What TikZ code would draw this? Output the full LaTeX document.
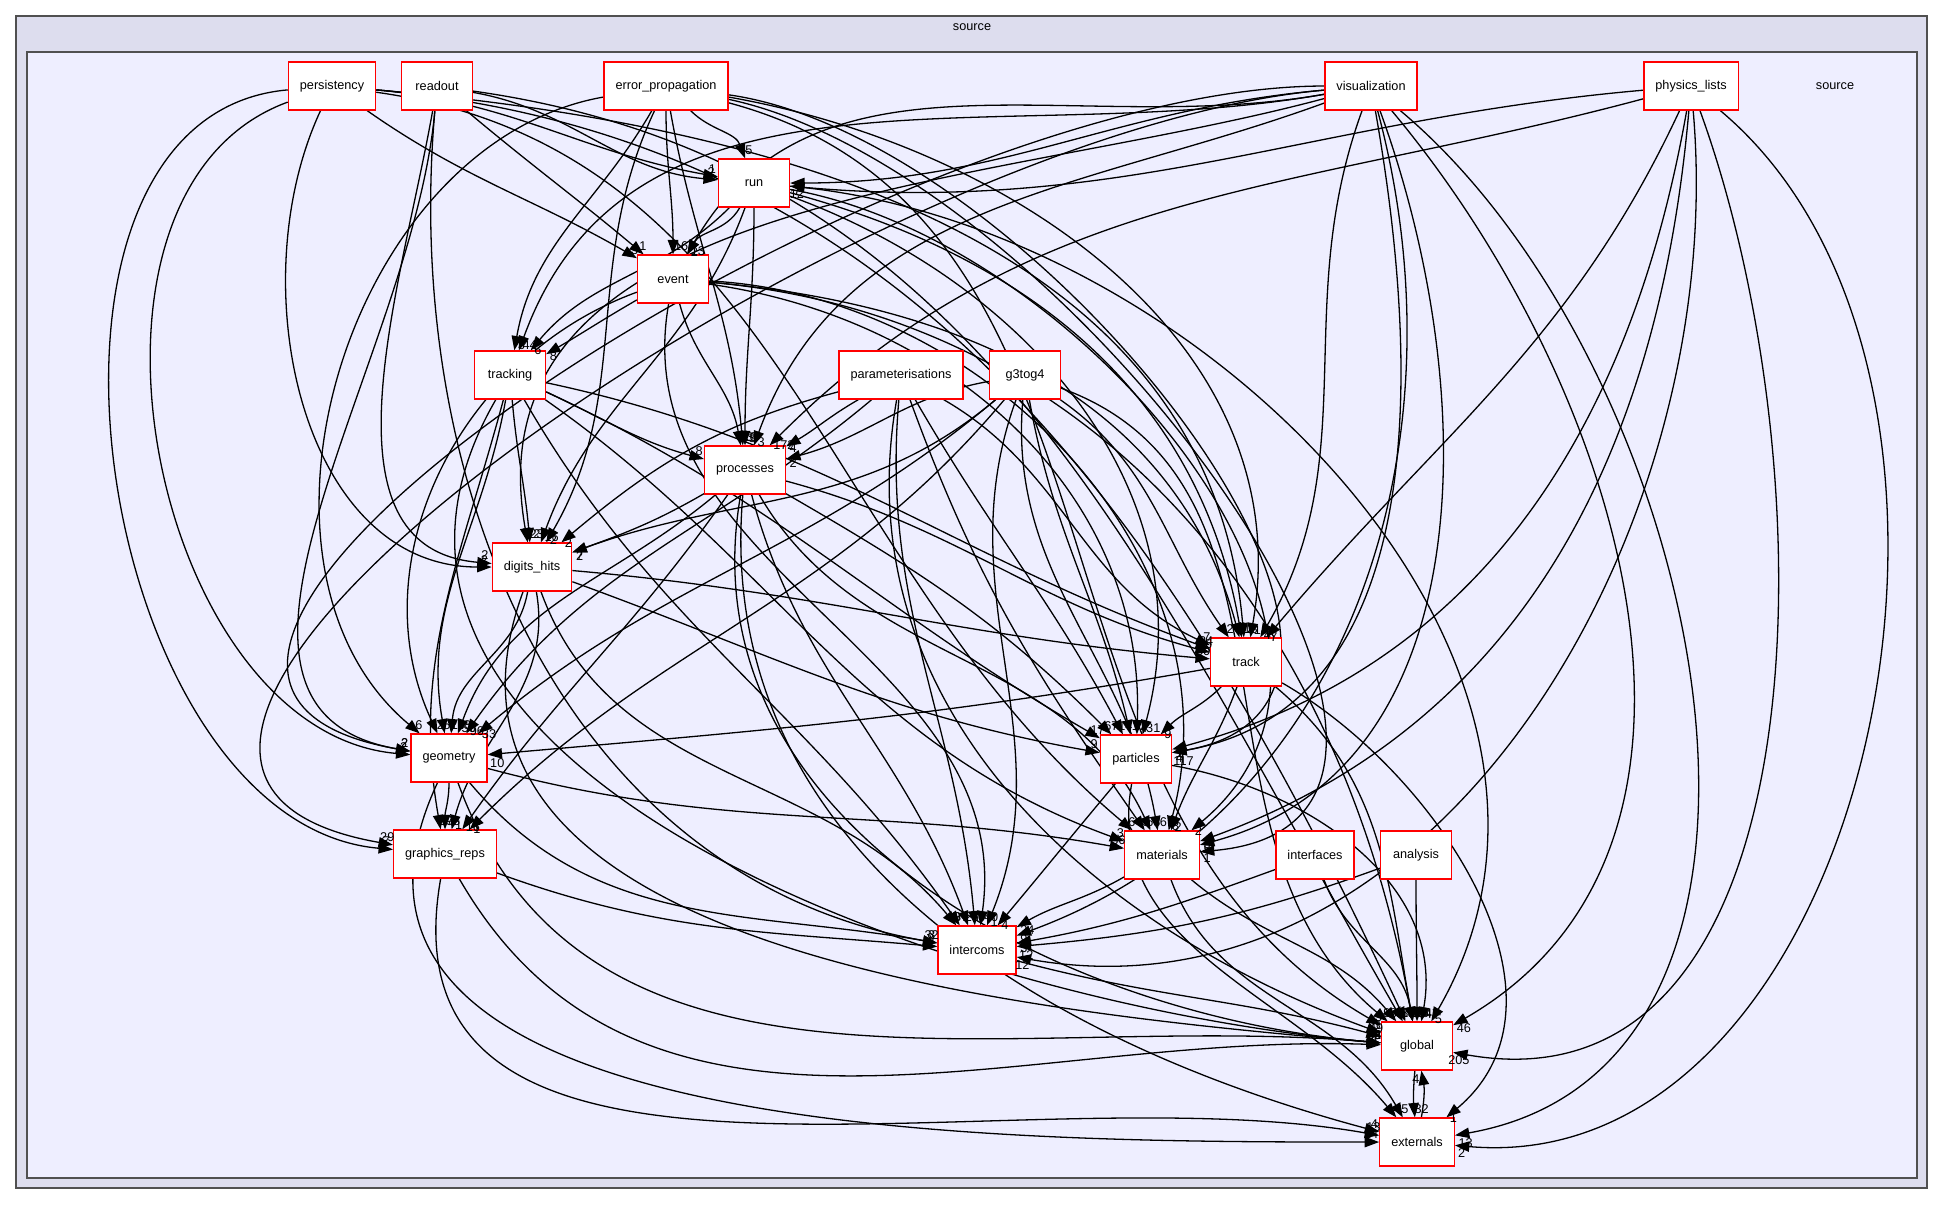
\documentclass[tikz,border=0pt]{standalone}
\usepackage{fontspec}
\setmainfont{Liberation Sans}
\usetikzlibrary{arrows.meta}
\pgfdeclarelayer{back}
\pgfdeclarelayer{edges}
\pgfsetlayers{back,edges,main}
\definecolor{outerbg}{HTML}{DDDDEE}
\definecolor{innerbg}{HTML}{EEEEFF}
\definecolor{framegray}{HTML}{505050}

\begin{document}
\begin{tikzpicture}[x=0.25pt, y=-0.25pt, font=\fontsize{3.175}{3.5}\selectfont,
  dirbox/.style={draw=red, fill=white, line width=0.325pt, minimum width=17.75pt,
                 minimum height=12pt, inner xsep=2.875pt},
  dep/.style={line width=0.325pt, -{Triangle[length=3.6pt, width=2.6pt]}},
  num/.style={inner sep=0.7pt}]
  \useasboundingbox (0,0) rectangle (1944,1204);
  \begin{pgfonlayer}{back}
    \draw[framegray, fill=outerbg, line width=0.325pt] (16,16) rectangle (1927,1188);
    \draw[framegray, fill=innerbg, line width=0.325pt] (27,52) rectangle (1917,1178);
  \end{pgfonlayer}
  \node (title) at (972,27) {source};
  \node (self) at (1835,86) {source};

  % directories
  \foreach \nm/\xx/\yy/\txt in {
    persistency/332/86/persistency, readout/437/86/readout,
    errorprop/666/86/error\_propagation, visualization/1371/86/visualization,
    physlists/1691/86/physics\_lists, run/754/183/run, event/673/279/event,
    tracking/510/375/tracking, param/901/375/parameterisations,
    gtog/1025/375/g3tog4, processes/745/470/processes,
    digits/532/567/digits\_hits, track/1246/662/track,
    geometry/449/758/geometry, particles/1136/759/particles,
    graphics/445/854/graphics\_reps, materials/1162/855/materials,
    interfaces/1315/855/interfaces, analysis/1416/855/analysis,
    intercoms/977/950/intercoms, global/1417/1046/global,
    externals/1417/1142/externals} {
    \node[dirbox] (\nm) at (\xx,\yy) {\txt};
  }

  % dependencies
  \foreach \src/\dst/\aout/\ain/\lab in {
    persistency/run/-5/170/1, persistency/event/-35/150/3,
    persistency/digits/-115/180/2, persistency/geometry/200/175/2,
    persistency/graphics/185/175/7, persistency/track/-5/95/13,
    persistency/materials/-8/140/6, persistency/global/-5/115/38,
    readout/run/-10/175/2, readout/event/-40/140/1,
    readout/digits/-100/175/2, readout/geometry/-95/170/2,
    readout/intercoms/-95/170/3, readout/global/-8/120/1,
    errorprop/run/-45/110/5, errorprop/event/-90/90/16,
    errorprop/tracking/-120/80/3, errorprop/processes/-80/95/26,
    errorprop/digits/-115/60/2, errorprop/geometry/190/140/6,
    errorprop/track/-10/80/14, errorprop/particles/-8/10/117,
    errorprop/materials/-12/5/1, errorprop/global/-15/150/3,
    visualization/run/185/0/7, visualization/event/190/60/2,
    visualization/tracking/190/70/44, visualization/processes/200/70/3,
    visualization/digits/195/100/22, visualization/geometry/180/170/2,
    visualization/graphics/185/170/29, visualization/track/-110/60/4,
    visualization/particles/-80/10/4, visualization/materials/-70/15/5,
    visualization/intercoms/-75/20/9, visualization/global/-50/30/46,
    visualization/externals/-40/10/13,
    physlists/run/185/355/12, physlists/processes/195/45/172,
    physlists/track/-115/50/7, physlists/particles/-100/15/1,
    physlists/materials/-95/20/3, physlists/intercoms/-85/350/12,
    physlists/global/-70/350/205, physlists/externals/-40/355/2,
    run/event/-120/60/13, run/tracking/-135/50/6, run/processes/-90/90/3,
    run/digits/-110/70/16, run/track/-15/100/13, run/particles/-20/75/31,
    run/materials/-10/40/2, run/global/-5/60/5,
    event/tracking/-150/30/8, event/processes/-75/100/23,
    event/geometry/-160/115/2, event/track/-5/105/1,
    event/particles/-8/88/4, event/materials/-3/75/8,
    event/intercoms/-100/82/40, event/global/-5/100/25,
    tracking/processes/-25/165/8, tracking/digits/-85/95/23,
    tracking/geometry/-100/100/52, tracking/graphics/-105/100/27,
    tracking/track/-12/160/34, tracking/particles/-25/150/17,
    tracking/intercoms/-60/125/87, tracking/global/-120/175/36,
    tracking/materials/-35/160/3,
    param/processes/-150/30/4, param/digits/195/40/2,
    param/geometry/-140/55/96, param/track/-30/155/7,
    param/particles/-60/118/14, param/materials/-70/125/3,
    param/intercoms/-95/95/6, param/global/-100/160/3,
    gtog/processes/190/15/2, gtog/digits/-140/20/7,
    gtog/geometry/-140/40/33, gtog/graphics/-130/45/1,
    gtog/track/-35/125/2, gtog/particles/-80/103/1,
    gtog/materials/-95/100/6, gtog/global/-20/140/9,
    gtog/intercoms/-110/68/1,
    processes/digits/-150/20/2, processes/geometry/-140/70/56,
    processes/graphics/-125/55/16, processes/track/-15/165/35,
    processes/particles/-30/135/67, processes/materials/-60/115/68,
    processes/intercoms/-75/110/26, processes/global/-100/175/32,
    processes/externals/-95/165/4,
    digits/geometry/-100/85/118, digits/graphics/-80/75/1,
    digits/track/-5/175/30, digits/particles/-20/170/9,
    digits/intercoms/-70/130/9, digits/global/-110/175/38,
    track/geometry/190/5/10, track/particles/-135/45/9,
    track/materials/-110/70/2, track/global/-40/100/525,
    track/externals/-30/40/1,
    geometry/graphics/-90/90/93, geometry/materials/-15/170/36,
    geometry/intercoms/-50/170/32, geometry/global/-70/175/34,
    geometry/externals/-115/180/14,
    particles/intercoms/-130/50/4, particles/global/-10/80/47,
    particles/externals/-100/130/4,
    graphics/intercoms/-20/175/8, graphics/global/-60/178/3,
    graphics/externals/-100/170/13,
    materials/intercoms/-150/30/24, materials/global/-40/130/82,
    materials/externals/-70/120/5,
    interfaces/intercoms/-160/10/3, interfaces/global/-70/100/13,
    analysis/intercoms/-160/5/12, analysis/global/-90/90/44,
    intercoms/global/-15/165/49, global/externals/-95/95/32,
    externals/global/80/-80/4} {
    \pgfmathtruncatemacro{\la}{mod(\ain+495,360)}
    \begin{pgfonlayer}{edges}
      \draw[dep] (\src) to[out=\aout, in=\ain] coordinate[pos=1] (tip) (\dst);
    \end{pgfonlayer}
    \node[num, anchor=\la] at (tip) {\lab};
  }
\end{tikzpicture}
\end{document}
